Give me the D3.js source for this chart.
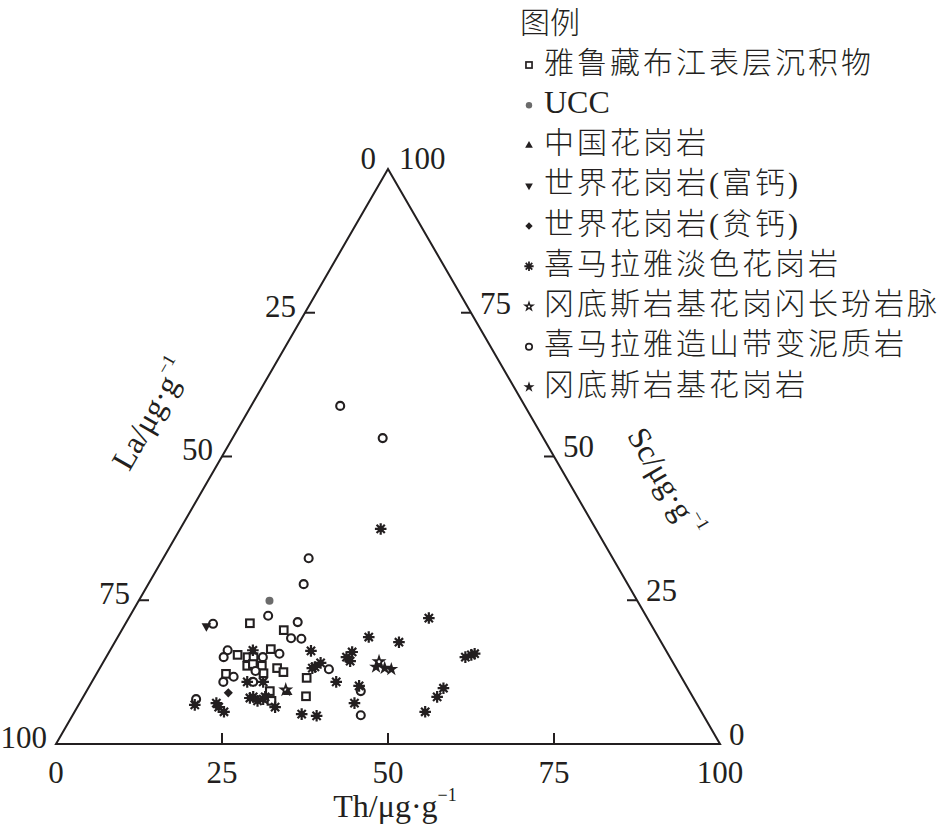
<!DOCTYPE html>
<html>
<head>
<meta charset="utf-8">
<script src="https://cdn.jsdelivr.net/npm/d3@7"></script>
<style>
  html, body { margin: 0; padding: 0; background: #fff; }
  svg text { font-family: "Liberation Serif", "Noto Sans CJK SC", serif; fill: #231f20; }
</style>
</head>
<body>
<svg id="tern" width="945" height="827"></svg>
<script>
// values are [Th, La, Sc] in μg/g
const sediment = [
  [18.7, 60.3, 21.0], [24.4, 55.8, 19.8], [19.6, 64.9, 15.5], [21.3, 63.6, 15.1],
  [22.2, 62.7, 15.1], [24.1, 59.4, 16.5], [22.0, 64.4, 13.6], [22.7, 63.4, 13.9],
  [24.2, 62.2, 13.6], [25.1, 62.6, 12.3], [26.7, 60.1, 13.2], [28.0, 59.5, 12.5],
  [19.5, 68.3, 12.2], [27.6, 63.2, 9.2], [28.7, 63.8, 7.5], [32.0, 56.5, 11.5],
  [33.5, 58.2, 8.3]
];
const ucc = [[19.7, 55.4, 24.9]];
const chinaGranite = [[30.4, 60.6, 9.0]];
const worldGraniteHighCa = [[12.4, 67.1, 20.5]];
const worldGraniteLowCa = [[21.5, 69.6, 8.9]];
const leucogranite = [
  [30.2, 32.4, 37.4], [45.2, 32.9, 21.9], [37.8, 43.6, 18.6], [42.8, 39.5, 17.7],
  [30.3, 53.5, 16.2], [36.2, 48.7, 15.1], [36.6, 47.4, 16.0], [37.1, 48.5, 14.4],
  [54.1, 30.8, 15.1], [54.8, 29.7, 15.5], [55.2, 29.1, 15.7], [32.8, 53.1, 14.1],
  [32.3, 54.3, 13.4], [32.0, 54.8, 13.2], [36.8, 52.4, 10.8], [53.5, 36.8, 9.7],
  [53.3, 38.5, 8.2], [40.6, 49.3, 10.1], [41.4, 51.5, 7.1], [52.8, 41.6, 5.6],
  [34.4, 60.4, 5.2], [36.8, 58.3, 4.9], [29.8, 63.8, 6.4], [21.5, 62.2, 16.3],
  [23.4, 65.8, 10.8], [25.8, 63.4, 10.8], [25.2, 66.8, 8.0], [25.6, 66.2, 8.2],
  [26.6, 65.9, 7.5], [27.3, 64.9, 7.8], [27.4, 64.4, 8.2], [20.6, 72.3, 7.1],
  [21.3, 72.3, 6.4], [22.5, 71.9, 5.6], [17.5, 75.7, 6.8]
];
const porphyryDyke = [[29.9, 60.7, 9.4], [41.5, 44.2, 14.3]];
const metapelite = [
  [13.4, 27.8, 58.8], [22.6, 24.2, 53.2], [21.9, 45.8, 32.3], [23.4, 48.8, 27.8],
  [20.8, 56.9, 22.3], [25.8, 53.0, 21.2], [13.2, 65.9, 20.9], [26.2, 55.4, 18.4],
  [27.8, 53.9, 18.3], [17.7, 66.0, 16.3], [17.7, 67.2, 15.1], [23.6, 61.3, 15.1],
  [25.8, 58.5, 15.7], [23.7, 63.6, 12.7], [19.8, 69.4, 10.8], [20.9, 67.4, 11.7],
  [24.3, 64.9, 10.8], [34.6, 52.4, 13.0], [41.3, 49.5, 9.2], [43.4, 51.6, 5.0],
  [17.2, 75.0, 7.8]
];
const gangdeseGranite = [[41.5, 45.1, 13.4], [42.9, 43.9, 13.2], [44.0, 43.0, 13.0]];

const legendTitle = "图例";
const legendNames = [
  "雅鲁藏布江表层沉积物", "UCC", "中国花岗岩", "世界花岗岩(富钙)", "世界花岗岩(贫钙)",
  "喜马拉雅淡色花岗岩", "冈底斯岩基花岗闪长玢岩脉", "喜马拉雅造山带变泥质岩", "冈底斯岩基花岗岩"
];
const legendSymbols = ["square", "dot", "triangle", "triangleDown", "diamond", "asterisk", "starOpen", "circle", "star"];

const ticks = [25, 50, 75];
const tickLabels = [0, 25, 50, 75, 100];

const svg = d3.select("#tern");
const ink = "#231f20";

const triLeft = 56;
const triRight = 720;
const triBottom = 744;
const triTop = triBottom - (triRight - triLeft) * Math.sqrt(3) / 2;

const xScale = d3.scaleLinear().domain([0, 100]).range([triLeft, triRight]);
const yScale = d3.scaleLinear().domain([0, 100]).range([triBottom, triTop]);

// Th -> bottom right, La -> bottom left, Sc -> top
function project(d) {
  const sum = d[0] + d[1] + d[2];
  const th = d[0] / sum * 100, sc = d[2] / sum * 100;
  return [xScale(th + sc / 2), yScale(sc)];
}

function asteriskPath(r) {
  const p = d3.path();
  for (let k = 0; k < 4; k++) {
    const a = k * Math.PI / 4;
    p.moveTo(-r * Math.cos(a), -r * Math.sin(a));
    p.lineTo(r * Math.cos(a), r * Math.sin(a));
  }
  return p.toString();
}

function drawSymbol(g, kind, s) {
  if (kind === "square") {
    g.append("rect").attr("x", -3.8 * s).attr("y", -3.8 * s).attr("width", 7.6 * s).attr("height", 7.6 * s)
      .attr("fill", "#fff").attr("stroke", ink).attr("stroke-width", 2.1 * s);
  } else if (kind === "circle") {
    g.append("circle").attr("r", 4 * s).attr("fill", "#fff").attr("stroke", ink).attr("stroke-width", 2.1 * s);
  } else if (kind === "dot") {
    g.append("circle").attr("r", 4 * s).attr("fill", "#6b6b6b");
  } else if (kind === "asterisk") {
    g.append("path").attr("d", asteriskPath(5.8 * s)).attr("stroke", ink).attr("stroke-width", 2.2 * s).attr("fill", "none");
    g.append("circle").attr("r", 3 * s).attr("fill", ink);
  } else if (kind === "triangle") {
    g.append("path").attr("d", d3.symbol(d3.symbolTriangle, 40 * s * s)()).attr("fill", ink);
  } else if (kind === "triangleDown") {
    g.append("path").attr("d", d3.symbol(d3.symbolTriangle, 40 * s * s)()).attr("fill", ink)
      .attr("transform", "rotate(180)");
  } else if (kind === "diamond") {
    g.append("path").attr("d", d3.symbol(d3.symbolSquare, 42 * s * s)()).attr("fill", ink)
      .attr("transform", "rotate(45)");
  } else if (kind === "star") {
    g.append("path").attr("d", d3.symbol(d3.symbolStar, 60 * s * s)()).attr("fill", ink);
  } else if (kind === "starOpen") {
    g.append("path").attr("d", d3.symbol(d3.symbolStar, 70 * s * s)()).attr("fill", ink);
    g.append("circle").attr("r", 1.4 * s).attr("fill", "#fff");
  }
}

// triangle frame
const corners = [[0, 100, 0], [100, 0, 0], [0, 0, 100]].map(project);
svg.append("path")
  .attr("d", d3.line()(corners) + "Z")
  .attr("fill", "none").attr("stroke", ink).attr("stroke-width", 2);

// bottom axis: Th
ticks.forEach(v => {
  const [x, y] = project([v, 100 - v, 0]);
  svg.append("line").attr("x1", x).attr("x2", x).attr("y1", y).attr("y2", y - 11)
    .attr("stroke", ink).attr("stroke-width", 2);
});
tickLabels.forEach(v => {
  const [x, y] = project([v, 100 - v, 0]);
  svg.append("text").attr("x", x).attr("y", y + 39).attr("text-anchor", "middle")
    .attr("font-size", 31).text(v);
});

// left axis: La (0 at top, 100 at bottom left)
ticks.forEach(v => {
  const [x, y] = project([0, v, 100 - v]);
  svg.append("line").attr("x1", x).attr("x2", x + 10).attr("y1", y).attr("y2", y)
    .attr("stroke", ink).attr("stroke-width", 2);
});
tickLabels.forEach(v => {
  const [x, y] = project([0, v, 100 - v]);
  svg.append("text").attr("x", x - (v === 0 ? 12 : 9)).attr("y", y + (v === 0 ? 0 : 4))
    .attr("text-anchor", "end").attr("font-size", 31).text(v);
});

// right axis: Sc (100 at top, 0 at bottom right)
ticks.forEach(v => {
  const [x, y] = project([100 - v, 0, v]);
  svg.append("line").attr("x1", x).attr("x2", x - 10).attr("y1", y).attr("y2", y)
    .attr("stroke", ink).attr("stroke-width", 2);
});
tickLabels.forEach(v => {
  const [x, y] = project([100 - v, 0, v]);
  svg.append("text").attr("x", x + (v === 100 ? 11 : 9)).attr("y", y + (v === 100 ? 0 : 1))
    .attr("text-anchor", "start").attr("font-size", 31).text(v);
});

// axis titles
function unitTitle(x, y, angle, name) {
  const t = svg.append("text")
    .attr("transform", `translate(${x},${y}) rotate(${angle})`)
    .attr("text-anchor", "middle").attr("dominant-baseline", "central").attr("font-size", 32);
  t.append("tspan").text(name + "/μg·g");
  t.append("tspan").attr("dy", -11).attr("font-size", 18).text("−1");
}
unitTitle(395, 806, 0, "Th");
unitTitle(150, 414, -60, "La");
unitTitle(666, 482, 60, "Sc");

// data points
const layers = [
  [sediment, "square"],
  [metapelite, "circle"],
  [leucogranite, "asterisk"],
  [gangdeseGranite, "star"],
  [porphyryDyke, "starOpen"],
  [chinaGranite, "triangle"],
  [worldGraniteHighCa, "triangleDown"],
  [worldGraniteLowCa, "diamond"],
  [ucc, "dot"]
];
layers.forEach(([rows, kind]) => {
  svg.append("g").selectAll("g")
    .data(rows)
    .join("g")
    .attr("transform", d => `translate(${project(d)})`)
    .each(function () { drawSymbol(d3.select(this), kind, 1); });
});

// legend
const legend = svg.append("g");
legend.append("text").attr("x", 520).attr("y", 22).attr("dominant-baseline", "central")
  .attr("font-size", 30).attr("font-weight", 300).text(legendTitle);
legendNames.forEach((name, i) => {
  const y = 65 + i * 40.25;
  const g = legend.append("g").attr("transform", `translate(529,${y})`);
  drawSymbol(g, legendSymbols[i], 0.8);
  const cjk = /[\u4e00-\u9fff]/.test(name);
  legend.append("text").attr("x", 544).attr("y", y - 3).attr("dominant-baseline", "central")
    .attr("font-size", cjk ? 30 : 32).attr("font-weight", 300)
    .attr("letter-spacing", cjk ? 3 : 0).text(name);
});
</script>
</body>
</html>
